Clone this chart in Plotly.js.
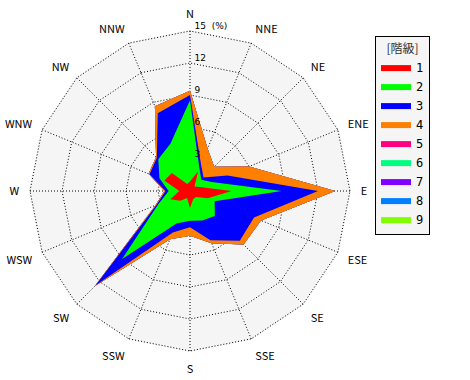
<!DOCTYPE html>
<html><head><meta charset="utf-8">
<script src="https://cdn.plot.ly/plotly-3.0.1.min.js"></script>
<style>html,body{margin:0;padding:0;background:#fff}</style>
</head><body><div id="chart" style="width:470px;height:380px"></div>
<script>
// wind directions (clockwise from north)
const directions = ['N','NNE','NE','ENE','E','ESE','SE','SSE','S','SSW','SW','WSW','W','WNW','NW','NNW'];
const classNames = ['1','2','3','4','5','6','7','8','9'];
const classColors = ['#ff0000','#00ff00','#0000ff','#ff8000','#ff0080','#00ff80','#8000ff','#0080ff','#80ff00'];
// frequency (%) per speed class, per direction
const class1 = [0.9,2.0,0.6,1.0,3.9,1.8,0.8,0.8,1.6,0.7,1.3,2.0,1.0,2.6,2.4,0.7];
const class2 = [7.6,0.3,0.9,1.2,4.7,0.7,2.5,2.2,1.2,2.6,7.7,1.2,1.0,0.5,1.8,4.1];
const class3 = [0.5,0.4,0.3,1.6,3.4,4.0,3.3,2.0,0.6,0.9,3.5,0.2,0.3,1.0,0.2,3.1];
const class4 = [0.4,1.6,1.4,2.2,1.6,0.7,0.5,0.3,0.8,0.7,0.1,0.1,0.1,0.1,0.1,0.7];
const class5 = [0,0,0,0,0,0,0,0,0,0,0,0,0,0,0,0];
const class6 = [0,0,0,0,0,0,0,0,0,0,0,0,0,0,0,0];
const class7 = [0,0,0,0,0,0,0,0,0,0,0,0,0,0,0,0];
const class8 = [0,0,0,0,0,0,0,0,0,0,0,0,0,0,0,0];
const class9 = [0,0,0,0,0,0,0,0,0,0,0,0,0,0,0,0];
const radialTickVals = [3,6,9,12,15];
const radialTickText = ['3','6','9','12','15\u00a0\u00a0(%)'];
const legendTitle = '[階級]';

const classes = [class1,class2,class3,class4,class5,class6,class7,class8,class9];
// cumulative stacking
const cum = [];
let run = directions.map(() => 0);
classes.forEach(c => { run = run.map((v,i) => v + c[i]); cum.push(run.slice()); });

const traces = [];
for (let k = classes.length - 1; k >= 0; k--) {
  traces.push({
    type: 'scatterpolar',
    r: cum[k].concat([cum[k][0]]),
    theta: directions.concat([directions[0]]),
    mode: 'lines',
    fill: 'toself',
    fillcolor: classColors[k],
    line: {color: classColors[k], width: 0},
    name: classNames[k],
    hoverinfo: 'skip'
  });
}
// radial tick labels, placed along the north axis
traces.push({
  type: 'scatterpolar',
  r: radialTickVals,
  theta: radialTickVals.map(() => directions[0]),
  mode: 'text',
  text: radialTickText.map(t => '\u2002' + t),
  textposition: 'top right',
  textfont: {family: 'DejaVu Sans, sans-serif', size: 9, color: '#000'},
  showlegend: false,
  hoverinfo: 'skip',
  cliponaxis: false
});

const font = {family: 'Noto Sans CJK JP, DejaVu Sans, sans-serif', size: 11, color: '#000'};
const legFont = {family: 'DejaVu Sans Mono, Noto Sans CJK JP, sans-serif', size: 12, color: '#000'};
const rmax = 15.1;
const R = 160 * rmax / 15;
const layout = {
  width: 470, height: 380,
  margin: {l: 0, r: 0, t: 0, b: 0},
  paper_bgcolor: '#ffffff',
  font: font,
  showlegend: true,
  legend: {
    x: 375/470, y: 1 - 36/380, xanchor: 'left', yanchor: 'top',
    bgcolor: '#f5f5f5', bordercolor: '#000', borderwidth: 1,
    traceorder: 'reversed',
    title: {text: legendTitle, side: 'top center', font: {family: 'Noto Sans CJK JP, sans-serif', size: 12, color: '#333'}},
    font: legFont
  },
  polar: {
    domain: {x: [(190-R)/470, (190+R)/470], y: [(189-R)/380, (189+R)/380]},
    bgcolor: '#f5f5f5',
    gridshape: 'linear',
    angularaxis: {
      type: 'category', categoryarray: directions,
      direction: 'clockwise', rotation: 90,
      showline: false, showgrid: true,
      gridcolor: '#000', griddash: '1px,2px', gridwidth: 1,
      ticks: 'outside', ticklen: 7, tickcolor: 'rgba(0,0,0,0)', tickfont: font
    },
    radialaxis: {
      range: [0, rmax], angle: 90,
      tickmode: 'array', tickvals: radialTickVals,
      showline: false, showgrid: true, showticklabels: false,
      gridcolor: '#000', griddash: '1px,2px', gridwidth: 1,
      ticks: ''
    }
  }
};
Plotly.newPlot('chart', traces, layout, {staticPlot: true});
</script></body></html>
